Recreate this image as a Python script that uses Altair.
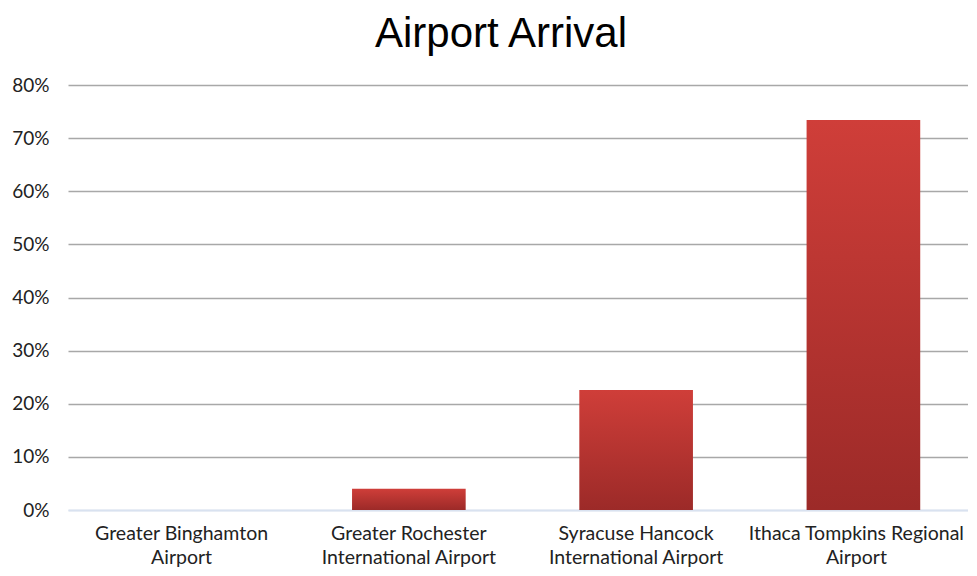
import altair as alt
import pandas as pd

categories = [
    "Greater Binghamton|Airport",
    "Greater Rochester|International Airport",
    "Syracuse Hancock|International Airport",
    "Ithaca Tompkins Regional|Airport",
]
values = [0.0, 0.04, 0.226, 0.734]
y_ticks = [0, 0.1, 0.2, 0.3, 0.4, 0.5, 0.6, 0.7, 0.8]

df = pd.DataFrame({"airport": categories, "share": values})

gradient = {
    "gradient": "linear",
    "x1": 0, "y1": 0, "x2": 0, "y2": 1,
    "stops": [
        {"offset": 0, "color": "#cf3e39"},
        {"offset": 1, "color": "#9c2a28"},
    ],
}

chart = (
    alt.Chart(df)
    .mark_bar(color=gradient)
    .encode(
        x=alt.X(
            "airport:N",
            sort=categories,
            scale=alt.Scale(paddingInner=0.5, paddingOuter=0.23, align=0.543),
            axis=alt.Axis(
                title=None,
                labelAngle=0,
                labelExpr="split(datum.value, '|')",
                labelFont="Lato",
                labelFontSize=19.5,
                labelColor="#222222",
                labelLineHeight=24,
                labelPadding=14,
                labelLimit=400,
                labelOffset={
                    "condition": {"test": "indexof(datum.value, 'Ithaca') === 0", "value": -7},
                    "value": 0,
                },
                ticks=False,
                domainColor="#d9e2f0",
                domainWidth=2,
            ),
        ),
        y=alt.Y(
            "share:Q",
            scale=alt.Scale(domain=[0, 0.8], nice=False),
            axis=alt.Axis(
                title=None,
                values=y_ticks,
                format=".0%",
                labelFont="Lato",
                labelFontSize=19,
                labelColor="#222222",
                labelPadding=19,
                ticks=False,
                domain=False,
                gridColor={
                    "condition": {"test": "datum.value === 0", "value": "#d9e2f0"},
                    "value": "#a8a8a8",
                },
                gridWidth=1.6,
            ),
        ),
    )
    .properties(
        width=900,
        height=425,
        autosize=alt.AutoSizeParams(type="none"),
        padding={"left": 60, "top": 77, "right": 0, "bottom": 58},
        title=alt.TitleParams(
            text="Airport Arrival",
            font="Liberation Sans",
            fontSize=42,
            fontWeight="normal",
            color="#000000",
            anchor="middle",
            dx=-17,
            offset=20,
        ),
    )
    .configure_view(stroke=None)
)

chart.save("out.html", embed_options={"renderer": "svg", "actions": False})
